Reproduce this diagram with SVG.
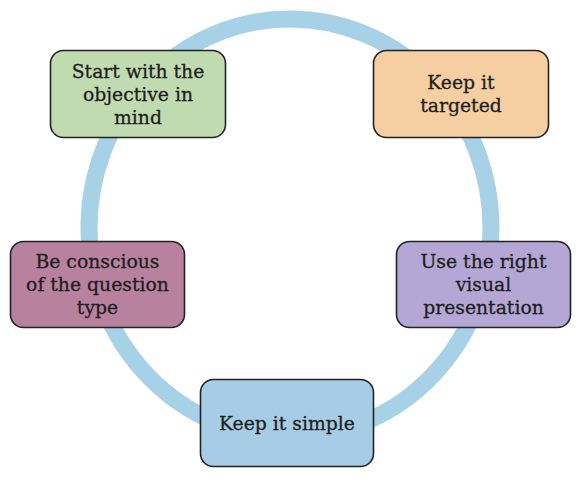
<svg xmlns="http://www.w3.org/2000/svg" width="582" height="479" viewBox="0 0 582 479">
<style>
.box{stroke:#222;stroke-width:1.6}
.t{font-family:"DejaVu Serif","Liberation Serif",serif;font-size:18.8px;fill:#1e1e1e;stroke:#1e1e1e;stroke-width:0.3;text-anchor:middle}
</style>
<rect width="582" height="479" fill="#fff"/>
<g id="connectors">
<ellipse cx="290" cy="228" rx="201" ry="209" fill="none" stroke="#a6d1e7" stroke-width="17"/>
</g>
<g id="n1">
<rect class="box" x="50.5" y="50.5" width="175" height="87" rx="13" fill="#c1dbb0"/>
<text class="t" x="138" y="78">Start with the</text>
<text class="t" x="138" y="101">objective in</text>
<text class="t" x="138" y="124">mind</text>
</g>
<g id="n2">
<rect class="box" x="373.5" y="50.5" width="175" height="87" rx="13" fill="#f5cfa2"/>
<text class="t" x="461" y="89">Keep it</text>
<text class="t" x="461" y="112">targeted</text>
</g>
<g id="n3">
<rect class="box" x="396.5" y="241.5" width="174" height="86" rx="13" fill="#b4a7d5"/>
<text class="t" x="483.5" y="268">Use the right</text>
<text class="t" x="483.5" y="291">visual</text>
<text class="t" x="483.5" y="314">presentation</text>
</g>
<g id="n4">
<rect class="box" x="200.5" y="379.5" width="173" height="87" rx="13" fill="#a7cde6"/>
<text class="t" x="287" y="430">Keep it simple</text>
</g>
<g id="n5">
<rect class="box" x="10.5" y="241.5" width="174" height="86" rx="13" fill="#b8819e"/>
<text class="t" x="97.5" y="268">Be conscious</text>
<text class="t" x="97.5" y="291">of the question</text>
<text class="t" x="97.5" y="314">type</text>
</g>
</svg>
